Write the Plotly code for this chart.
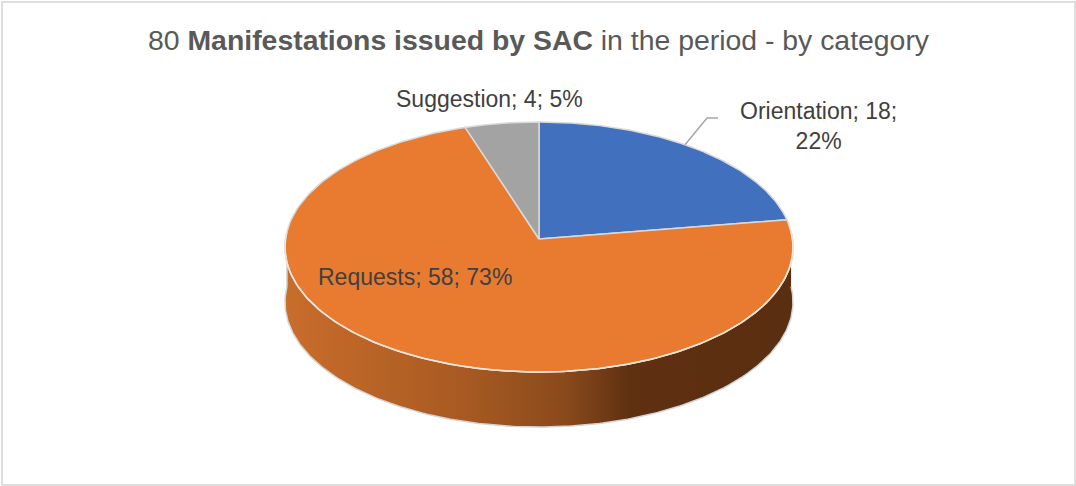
import numpy as np
import plotly.graph_objects as go

# --- data ---
CATEGORIES = ["Orientation", "Requests", "Suggestion"]
COUNTS = [18, 58, 4]
PERCENT_LABELS = ["22%", "73%", "5%"]
SLICE_COLORS = ["#4170BF", "#E97B30", "#A3A3A3"]
TITLE_HTML = "80 <b>Manifestations issued by SAC</b> in the period - by category"

# --- view of the tilted disc, in plot units (1 unit = 1 px) ---
CX, CY = 539, 239
RX, RY = 253.5, 124.5
PERSPECTIVE = 0.064
DEPTH = 55
WALL_STOPS = [[0, "#C96D2B"], [0.35, "#A85A22"], [0.55, "#8A4A1C"], [0.68, "#5F3011"], [1, "#5A2E10"]]
EDGE = "#D9D9D9"
FRONT_EDGE = "#F3E4D8"
TEXT = "#404040"


def project(theta):
    """Angle clockwise from the top of the pie -> plot position on the top face."""
    u, v = np.sin(theta), np.cos(theta)
    w = 1 + PERSPECTIVE * v
    return CX + RX * u / w, CY - RY * v / w


total = sum(COUNTS)
edges = 2 * np.pi * np.cumsum([0] + COUNTS) / total

fig = go.Figure()

# side wall of the pie: front half of the rim, pushed down by the depth
front = np.linspace(np.pi / 2 - 0.06, 3 * np.pi / 2 + 0.06, 240)
fx, fy = project(front)
fig.add_trace(go.Scatter(
    x=np.r_[fx, fx[::-1]], y=np.r_[fy, fy[::-1] + DEPTH],
    mode="lines", fill="toself", line=dict(color="#D4D4D4", width=1.5),
    fillgradient=dict(type="horizontal", colorscale=WALL_STOPS),
    hoverinfo="skip", showlegend=False,
))

# top face, one wedge per category
for i, (name, color) in enumerate(zip(CATEGORIES, SLICE_COLORS)):
    th = np.linspace(edges[i], edges[i + 1], 200)
    x, y = project(th)
    fig.add_trace(go.Scatter(
        x=np.r_[CX, x, CX], y=np.r_[CY, y, CY], name=name,
        mode="lines", fill="toself", fillcolor=color,
        line=dict(color=EDGE, width=1.5),
        hoverinfo="skip", showlegend=False,
    ))

# brighter lip where the top face meets the wall
fig.add_trace(go.Scatter(
    x=fx, y=fy, mode="lines", line=dict(color=FRONT_EDGE, width=1.5),
    hoverinfo="skip", showlegend=False,
))

# leader line of the Orientation label
lx, ly = project(edges[0] + 0.46 * (edges[1] - edges[0]))
fig.add_trace(go.Scatter(
    x=[lx, 707, 718], y=[ly, 118, 118], mode="lines",
    line=dict(color="#A6A6A6", width=1.5), hoverinfo="skip", showlegend=False,
))


def label(i):
    return f"{CATEGORIES[i]}; {COUNTS[i]}; {PERCENT_LABELS[i]}"


FONT = "Liberation Sans"
annotations = [
    dict(x=818, y=125.5, text=f"{CATEGORIES[0]}; {COUNTS[0]};<br>{PERCENT_LABELS[0]}", align="center"),
    dict(x=415, y=277, text=label(1)),
    dict(x=489, y=99, text=label(2)),
]
for a in annotations:
    a.update(xref="x", yref="y", showarrow=False, xanchor="center", yanchor="middle",
             font=dict(family=FONT, size=23, color=TEXT))
annotations.append(dict(
    x=539, y=40, xref="x", yref="y", text=TITLE_HTML, showarrow=False,
    xanchor="center", yanchor="middle", font=dict(family=FONT, size=28.4, color="#595959"),
))

fig.update_layout(
    width=1076, height=486, margin=dict(l=0, r=0, t=0, b=0),
    paper_bgcolor="white", plot_bgcolor="white", showlegend=False,
    xaxis=dict(range=[0, 1076], visible=False, fixedrange=True),
    yaxis=dict(range=[486, 0], visible=False, fixedrange=True),
    annotations=annotations,
    shapes=[dict(type="rect", xref="x", yref="y", x0=2, y0=2, x1=1075, y1=485,
                 line=dict(color="#DEDEDE", width=2), layer="below")],
)

fig.write_html(
    "out.html",
    config={"displayModeBar": False},
    post_script="document.body.style.margin='0';document.body.style.overflow='hidden';",
)
